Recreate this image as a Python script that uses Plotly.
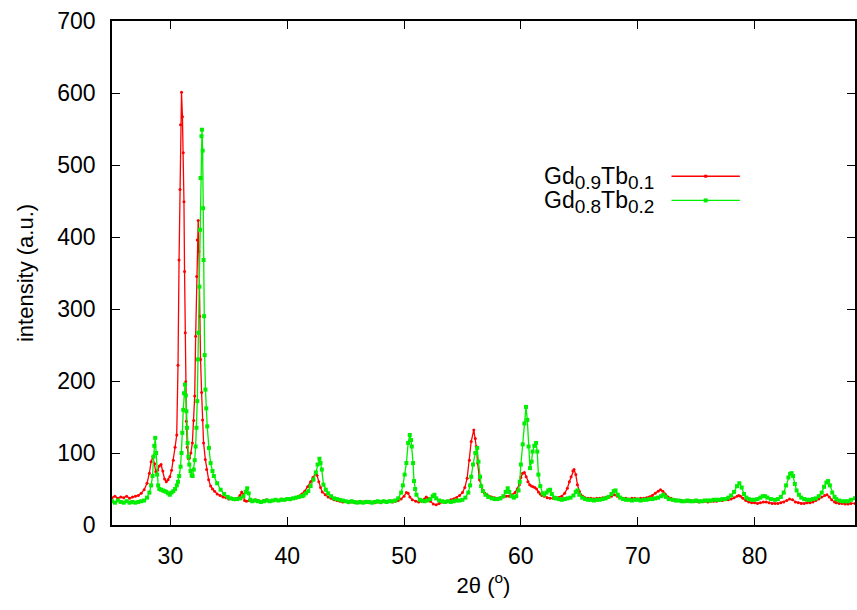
import plotly.graph_objects as go

# ---------------- data ----------------
red_name = "Gd<sub><span style='font-size:19px'>0.9</span></sub>Tb<sub><span style='font-size:19px'>0.1</span></sub>"
green_name = "Gd<sub><span style='font-size:19px'>0.8</span></sub>Tb<sub><span style='font-size:19px'>0.2</span></sub>"

red_x = [25.0, 25.25, 25.5, 25.75, 26.0, 26.25, 26.5, 26.75, 27.0, 27.25, 27.5, 27.75, 28.0, 28.2, 28.35, 28.5,
         28.65, 28.75, 28.9, 29.05, 29.2, 29.35, 29.5, 29.65, 29.8, 29.95, 30.1, 30.25, 30.4, 30.54, 30.65, 30.74,
         30.82, 30.87, 30.95, 31.03, 31.1, 31.16, 31.21, 31.27, 31.31, 31.37, 31.45, 31.55, 31.65, 31.75, 31.88,
         32.0, 32.08, 32.16, 32.25, 32.3, 32.38, 32.44, 32.5, 32.58, 32.67, 32.75, 32.84, 32.99, 33.1, 33.27,
         33.44, 33.6, 33.78, 34.0, 34.25, 34.5, 34.75, 35.0, 35.25, 35.5, 35.75, 35.95, 36.1, 36.2, 36.35, 36.5,
         36.75, 37.0, 37.25, 37.5, 37.75, 38.0, 38.25, 38.5, 38.75, 39.0, 39.25, 39.5, 39.75, 40.0, 40.25, 40.5,
         40.75, 41.0, 41.25, 41.5, 41.75, 42.0, 42.2, 42.4, 42.55, 42.7, 42.85, 43.0, 43.25, 43.5, 43.75, 44.0,
         44.25, 44.5, 44.75, 45.0, 45.25, 45.5, 45.75, 46.0, 46.25, 46.5, 46.75, 47.0, 47.25, 47.5, 47.75, 48.0,
         48.25, 48.5, 48.75, 49.0, 49.25, 49.5, 49.75, 50.0, 50.2, 50.35, 50.5, 50.7, 51.0, 51.25, 51.5, 51.75,
         51.9, 52.05, 52.25, 52.5, 52.75, 53.0, 53.25, 53.5, 53.75, 54.0, 54.25, 54.5, 54.75, 55.0, 55.2, 55.4,
         55.6, 55.75, 55.97, 56.1, 56.18, 56.3, 56.46, 56.7, 56.9, 57.1, 57.3, 57.5, 57.75, 58.0, 58.25, 58.5,
         58.75, 59.0, 59.25, 59.5, 59.7, 59.87, 60.0, 60.15, 60.3, 60.45, 60.6, 60.75, 60.9, 61.05, 61.2, 61.35,
         61.5, 61.65, 61.8, 62.0, 62.25, 62.5, 62.75, 63.0, 63.25, 63.5, 63.75, 63.98, 64.15, 64.3, 64.45, 64.55,
         64.7, 64.84, 65.0, 65.13, 65.3, 65.5, 65.75, 66.0, 66.25, 66.5, 66.75, 67.0, 67.25, 67.5, 67.75, 68.0,
         68.25, 68.5, 68.75, 69.0, 69.25, 69.5, 69.75, 70.0, 70.25, 70.5, 70.75, 71.0, 71.25, 71.5, 71.75, 71.95,
         72.15, 72.35, 72.6, 72.85, 73.0, 73.25, 73.5, 73.75, 74.0, 74.25, 74.5, 74.75, 75.0, 75.25, 75.5, 75.75,
         76.0, 76.25, 76.5, 76.75, 77.0, 77.25, 77.5, 77.75, 78.0, 78.25, 78.5, 78.65, 78.8, 79.0, 79.25, 79.5,
         79.75, 80.0, 80.25, 80.5, 80.75, 81.0, 81.25, 81.5, 81.75, 82.0, 82.25, 82.5, 82.75, 83.0, 83.25, 83.5,
         83.75, 84.0, 84.25, 84.5, 84.75, 85.0, 85.25, 85.5, 85.75, 86.0, 86.2, 86.4, 86.6, 86.85, 87.0, 87.25,
         87.5, 87.75, 88.0, 88.25, 88.6]
red_y = [38, 40, 37, 39, 38, 40, 37, 39, 40, 41, 44, 49, 58, 72, 88, 95,
         85, 74, 76, 82, 84, 75, 64, 60, 63, 67, 76, 90, 108, 125, 222, 368,
         466, 556, 601, 567, 517, 449, 352, 267, 199, 144, 108, 92, 93, 100, 114,
         145, 179, 262, 345, 396, 423, 380, 290, 230, 184, 146, 114, 91, 77, 63,
         54, 50, 47, 43, 41, 39, 38, 36, 37, 35, 37, 41, 46, 43, 34, 33,
         34, 33, 35, 34, 33, 34, 35, 33, 34, 35, 34, 36, 35, 36, 35, 37,
         38, 40, 43, 47, 53, 60, 66, 71, 69, 60, 52, 46, 42, 39, 37, 35,
         34, 33, 32, 33, 31, 32, 31, 32, 31, 32, 33, 31, 32, 31, 32, 31,
         33, 32, 33, 32, 33, 34, 36, 40, 45, 44, 39, 35, 33, 32, 33, 36,
         39, 37, 33, 29, 28, 30, 32, 33, 33, 35, 36, 38, 41, 45, 52, 65,
         90, 116, 132, 120, 109, 86, 63, 49, 44, 42, 40, 39, 38, 37, 38, 39,
         40, 40, 42, 45, 50, 56, 66, 72, 73, 67, 60, 56, 54, 53, 52, 50,
         46, 43, 41, 40, 38, 37, 37, 38, 38, 40, 44, 51, 60, 67, 75, 77,
         70, 56, 47, 42, 40, 38, 37, 37, 36, 37, 37, 38, 38, 39, 40, 42,
         40, 38, 37, 37, 36, 37, 37, 36, 37, 37, 38, 39, 41, 44, 47, 49,
         47, 43, 39, 37, 35, 35, 34, 34, 33, 33, 34, 33, 33, 32, 33, 33,
         32, 33, 33, 33, 34, 34, 35, 35, 36, 38, 40, 41, 40, 37, 34, 32,
         31, 31, 30, 31, 32, 32, 31, 30, 30, 30, 31, 32, 34, 36, 35, 32,
         31, 30, 30, 31, 31, 32, 34, 36, 39, 41, 42, 39, 35, 32, 31, 30,
         30, 29, 29, 30, 30]

green_x = [25.0, 25.25, 25.5, 25.75, 26.0, 26.25, 26.5, 26.75, 27.0, 27.25, 27.5, 27.75, 28.0, 28.2, 28.35, 28.47,
           28.56, 28.62, 28.7, 28.78, 28.86, 28.95, 29.05, 29.2, 29.35, 29.5, 29.65, 29.8, 29.95, 30.1, 30.25, 30.4,
           30.55, 30.65, 30.75, 30.87, 30.95, 31.02, 31.1, 31.16, 31.25, 31.32, 31.37, 31.42, 31.47, 31.54, 31.62,
           31.72, 31.82, 31.9, 32.0, 32.08, 32.16, 32.23, 32.3, 32.36, 32.4, 32.48, 32.53, 32.58, 32.66, 32.7,
           32.76, 32.8, 32.84, 32.88, 32.93, 33.0, 33.07, 33.15, 33.3, 33.44, 33.6, 33.72, 34.0, 34.3, 34.6, 34.9,
           35.14, 35.4, 35.7, 36.0, 36.25, 36.45, 36.57, 36.7, 36.85, 37.0, 37.25, 37.5, 37.75, 38.0, 38.25, 38.5,
           38.75, 39.0, 39.25, 39.5, 39.75, 40.0, 40.25, 40.5, 40.75, 41.0, 41.25, 41.4, 41.6, 41.8, 42.0, 42.25,
           42.45, 42.6, 42.76, 42.85, 42.96, 43.1, 43.3, 43.5, 43.75, 44.0, 44.25, 44.5, 44.75, 45.0, 45.25, 45.5,
           45.75, 46.0, 46.25, 46.5, 46.75, 47.0, 47.25, 47.5, 47.75, 48.0, 48.25, 48.5, 48.75, 49.0, 49.25, 49.5,
           49.75, 49.9, 50.05, 50.2, 50.35, 50.49, 50.6, 50.66, 50.77, 50.85, 50.95, 51.06, 51.34, 51.5, 51.75,
           52.0, 52.25, 52.45, 52.6, 52.75, 53.0, 53.25, 53.5, 53.75, 54.0, 54.25, 54.5, 54.75, 55.0, 55.25, 55.5,
           55.65, 55.75, 55.9, 56.1, 56.26, 56.37, 56.5, 56.6, 56.75, 56.97, 57.2, 57.5, 57.75, 58.0, 58.25, 58.5,
           58.7, 58.87, 59.0, 59.2, 59.4, 59.6, 59.8, 59.9, 60.0, 60.16, 60.3, 60.44, 60.55, 60.66, 60.78, 60.92,
           61.0, 61.15, 61.3, 61.4, 61.5, 61.66, 61.86, 62.0, 62.2, 62.35, 62.5, 62.65, 62.85, 63.0, 63.25, 63.5,
           63.75, 64.0, 64.25, 64.5, 64.7, 64.84, 65.0, 65.25, 65.5, 65.75, 66.0, 66.25, 66.5, 66.75, 67.0, 67.25,
           67.5, 67.75, 67.95, 68.1, 68.3, 68.5, 68.75, 69.0, 69.25, 69.5, 69.75, 70.0, 70.25, 70.5, 70.75, 71.0,
           71.25, 71.5, 71.75, 72.0, 72.2, 72.4, 72.65, 73.0, 73.25, 73.5, 73.75, 74.0, 74.25, 74.5, 74.75, 75.0,
           75.25, 75.5, 75.75, 76.0, 76.25, 76.5, 76.75, 77.0, 77.25, 77.5, 77.75, 78.0, 78.25, 78.5, 78.7, 78.9,
           79.1, 79.3, 79.5, 79.75, 80.0, 80.25, 80.5, 80.7, 80.9, 81.1, 81.4, 81.75, 82.0, 82.25, 82.5, 82.7,
           82.9, 83.05, 83.17, 83.3, 83.45, 83.6, 83.8, 84.0, 84.25, 84.5, 84.75, 85.0, 85.25, 85.5, 85.75, 85.95,
           86.15, 86.3, 86.45, 86.65, 86.85, 87.0, 87.25, 87.5, 87.75, 88.0, 88.25, 88.6]
green_y = [33, 31, 34, 32, 31, 33, 31, 32, 31, 32, 33, 34, 38, 45, 55, 68,
           95, 110, 121, 100, 70, 55, 50, 49, 48, 47, 46, 44, 42, 45, 47, 50,
           55, 60, 68, 81, 100, 128, 160, 183, 195, 180, 158, 135, 114, 95, 84,
           75, 69, 68, 77, 90, 109, 135, 172, 230, 267, 331, 410, 482, 540, 549,
           520, 440, 368, 290, 236, 188, 162, 137, 107, 86, 75, 68, 58, 49, 43, 39,
           37, 36, 36, 37, 40, 46, 51, 44, 35, 33, 34, 33, 32, 33, 34, 33,
           34, 35, 34, 35, 35, 36, 36, 37, 38, 39, 40, 41, 44, 47, 54, 63,
           73, 84, 92, 86, 77, 56, 49, 44, 40, 37, 36, 35, 34, 33, 32, 33,
           32, 31, 32, 31, 32, 32, 31, 32, 33, 32, 33, 32, 33, 33, 34, 37,
           45, 55, 70, 86, 114, 125, 118, 109, 86, 61, 50, 42, 35, 34, 33,
           34, 36, 40, 42, 37, 34, 33, 32, 33, 32, 33, 34, 34, 35, 38, 45,
           55, 67, 84, 100, 107, 88, 67, 54, 47, 42, 39, 37, 36, 36, 37, 40,
           46, 51, 46, 40, 38, 40, 48, 60, 84, 112, 141, 164, 146, 109, 79, 88,
           102, 110, 114, 102, 70, 54, 44, 42, 45, 48, 49, 43, 38, 37, 36, 35,
           36, 37, 38, 41, 46, 48, 42, 38, 36, 35, 35, 34, 35, 35, 36, 37,
           39, 43, 47, 48, 42, 38, 36, 35, 35, 34, 35, 35, 34, 35, 35, 36,
           36, 37, 38, 40, 42, 39, 36, 35, 34, 34, 33, 33, 34, 33, 33, 34,
           33, 33, 34, 34, 34, 35, 35, 35, 36, 36, 38, 41, 46, 54, 58, 52,
           43, 38, 36, 35, 35, 36, 38, 40, 40, 38, 36, 35, 36, 39, 45, 55,
           66, 71, 72, 68, 57, 48, 42, 38, 36, 35, 35, 36, 37, 40, 45, 53,
           59, 61, 55, 45, 39, 36, 34, 33, 33, 33, 35, 37]

x_ticks = [30, 40, 50, 60, 70, 80]
y_ticks = [0, 100, 200, 300, 400, 500, 600, 700]
x_title = "2\u03b8 (<sup>o</sup>)"
y_title = "intensity (a.u.)"

RED = "#ff0000"
GREEN = "#00ee00"
FONT = "Liberation Sans, Arial, sans-serif"

fig = go.Figure()
fig.add_trace(go.Scatter(x=red_x, y=red_y, mode="lines+markers", name=red_name,
                         line=dict(color=RED, width=1.3),
                         marker=dict(color=RED, size=3, symbol="circle"),
                         showlegend=False))
fig.add_trace(go.Scatter(x=green_x, y=green_y, mode="lines+markers", name=green_name,
                         line=dict(color=GREEN, width=1.3),
                         marker=dict(color=GREEN, size=4, symbol="square"),
                         showlegend=False))

# gnuplot-style key: text right-aligned, sample line to the right
key_rows = [(red_name, RED, 0.688, 3), (green_name, GREEN, 0.640, 4)]
for text, col, yy, sz in key_rows:
    fig.add_annotation(x=0.732, y=yy, xref="paper", yref="paper", text=text, showarrow=False,
                       xanchor="right", yanchor="middle", font=dict(size=23, color="black", family=FONT))
    fig.add_shape(type="line", xref="paper", yref="paper", x0=0.753, x1=0.845, y0=yy + 0.004, y1=yy + 0.004,
                  line=dict(color=col, width=1.3))
    fig.add_shape(type="rect", xref="paper", yref="paper",
                  x0=0.799 - sz / 1492, x1=0.799 + sz / 1492,
                  y0=yy + 0.004 - sz / 1008, y1=yy + 0.004 + sz / 1008,
                  line=dict(width=0), fillcolor=col)

axis_common = dict(showgrid=False, zeroline=False, showline=True, linecolor="black", linewidth=1.5,
                   mirror="ticks", ticks="inside", ticklen=8, tickwidth=1.2, tickcolor="black",
                   tickfont=dict(size=23, color="black", family=FONT))

fig.update_xaxes(range=[25, 88.6], tickvals=x_ticks, ticklabelstandoff=10,
                 title=dict(text=x_title, font=dict(size=22, color="black", family=FONT), standoff=8),
                 **axis_common)
fig.update_yaxes(range=[0, 700], tickvals=y_ticks, ticklabelstandoff=10,
                 title=dict(text=y_title, font=dict(size=22, color="black", family=FONT), standoff=18),
                 **axis_common)

fig.update_layout(width=857, height=610, margin=dict(l=112, r=0, t=21, b=85),
                  paper_bgcolor="white", plot_bgcolor="white", showlegend=False)

fig.write_html("out.html")
